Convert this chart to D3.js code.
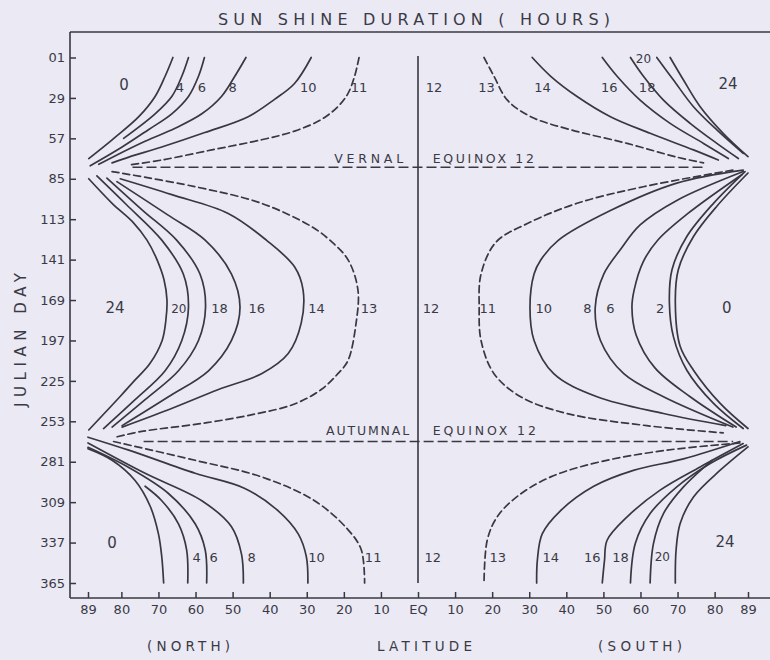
<!DOCTYPE html>
<html>
<head>
<meta charset="utf-8">
<script src="https://cdn.jsdelivr.net/npm/d3@7/dist/d3.min.js"></script>
<style>
  html, body { margin: 0; padding: 0; background: #eae9f4; }
  svg { display: block; }
  text { font-family: "DejaVu Sans", "Liberation Sans", sans-serif; fill: #3a3a46; }
</style>
</head>
<body>
<svg id="chart" width="770" height="660"></svg>
<script>
// ---- axis ticks ----
const dayTicks = [1, 29, 57, 85, 113, 141, 169, 197, 225, 253, 281, 309, 337, 365];
const dayTickLabels = ["01", "29", "57", "85", "113", "141", "169", "197", "225", "253", "281", "309", "337", "365"];
// signed latitude: negative = north (left), positive = south (right)
const latTicks = [-89, -80, -70, -60, -50, -40, -30, -20, -10, 0, 10, 20, 30, 40, 50, 60, 70, 80, 89];
const latTickLabels = ["89", "80", "70", "60", "50", "40", "30", "20", "10", "EQ", "10", "20", "30", "40", "50", "60", "70", "80", "89"];

// ---- day-length isolines, points are [latitude in degrees, Julian day] ----
// Northern hemisphere, 1 January to the vernal equinox
const northEarly = [
  { hours: 0,  pts: [[66.1, 1], [68.2, 14], [70.9, 28], [75.3, 42], [82.5, 58], [88.8, 71]] },
  { hours: 4,  pts: [[61.9, 1], [63.7, 14], [66.4, 28], [70.9, 40], [79.4, 57]] },
  { hours: 6,  pts: [[57.6, 1], [59.2, 14], [61.9, 28], [66.4, 40], [72.7, 51], [79.8, 63], [88.4, 76]] },
  { hours: 8,  pts: [[46.4, 1], [49.4, 14], [53.0, 28], [58.3, 40], [65.5, 50], [73.6, 59], [81.6, 69], [86.1, 75]] },
  { hours: 10, pts: [[28.8, 1], [33.3, 19], [38.7, 30], [45.8, 42], [57.5, 53], [69.1, 63], [78.0, 70], [82.5, 74]] },
  { hours: 11, pts: [[15.9, 1], [17.1, 14], [18.9, 26], [21.6, 35], [26.1, 44], [33.3, 52], [42.2, 58], [55.6, 65], [69.1, 72], [78.0, 75.5]] }
];
// Northern hemisphere, vernal to autumnal equinox
const northMiddle = [
  { hours: 24, pts: [[88.8, 85], [82.5, 102], [76.9, 115], [73.1, 127.5], [70.4, 141], [68.5, 155], [67.7, 169], [68.0, 183], [69.0, 197], [72.3, 213], [76.9, 226], [80.4, 236], [88.8, 259]] },
  { hours: 20, pts: [[86.6, 83], [78.6, 103], [69.1, 127.5], [63.3, 151], [61.9, 174], [63.7, 197], [68.2, 218], [76.3, 238], [84.8, 258]] },
  { hours: 18, pts: [[83.9, 84.5], [74.2, 107], [65.1, 127.5], [58.8, 151], [57.3, 174], [59.2, 197], [64.6, 218], [73.6, 238], [82.5, 257]] },
  { hours: 16, pts: [[81.2, 87], [67.5, 110], [57.4, 127.5], [50.3, 151], [48.0, 174], [50.3, 197], [56.5, 218], [67.3, 236], [79.8, 256]] },
  { hours: 14, pts: [[80.3, 85], [66.4, 96], [51.2, 109], [40.9, 127.5], [33.3, 146], [31.0, 162], [31.5, 185], [35.0, 206], [42.2, 220], [53.8, 231], [67.3, 245], [79.8, 257]] },
  { hours: 13, pts: [[82.5, 80], [60.1, 90.5], [42.2, 102], [28.8, 118], [23.8, 127.5], [18.9, 141], [16.2, 162], [16.7, 185], [18.9, 211], [21.6, 220], [26.1, 231], [33.3, 241], [44.0, 248], [58.3, 254.5], [74.5, 260], [81.6, 264]] }
];
// Northern hemisphere, autumnal equinox to 31 December
const northLate = [
  { hours: 0,  pts: [[89, 272], [82.5, 280], [76.3, 294], [72.2, 312], [70.0, 331], [69.1, 347], [68.6, 365]] },
  { hours: 4,  pts: [[73.6, 298], [69.1, 308], [64.6, 324], [62.4, 342], [62.1, 365]] },
  { hours: 6,  pts: [[89, 271], [78.0, 285], [67.3, 303], [60.1, 324], [57.4, 342], [57.0, 365]] },
  { hours: 8,  pts: [[89, 268], [73.6, 289], [58.3, 308], [50.3, 326], [47.6, 345], [47.1, 365]] },
  { hours: 10, pts: [[89, 264], [78.0, 273], [60.1, 289], [46.7, 299.5], [37.7, 315], [32.3, 331], [30.1, 347], [29.7, 365]] },
  { hours: 11, pts: [[82.1, 267], [60.1, 280], [42.2, 291.5], [27.9, 308], [18.9, 328], [15.3, 342], [14.4, 365]] }
];
// Southern hemisphere, 1 January to the vernal equinox
const southEarly = [
  { hours: 13, pts: [[17.8, 1], [20.5, 14], [24.1, 30.5], [30.4, 42], [41.1, 51], [56.4, 60.5], [69.8, 70], [77.0, 74]] },
  { hours: 14, pts: [[30.8, 1], [35.8, 14], [42.9, 28], [51.9, 42], [62.6, 53.5], [74.3, 65], [81.0, 72]] },
  { hours: 16, pts: [[49.7, 1], [53.7, 14], [59.9, 30.5], [68.0, 46.6], [77.0, 60.5], [83.7, 71]] },
  { hours: 18, pts: [[57.3, 1], [60.8, 14], [66.2, 30.5], [73.4, 46.6], [80.6, 60.5], [86.4, 71]] },
  { hours: 20, pts: [[64.4, 1], [68.9, 16.6], [74.3, 35.1], [80.6, 51.2], [87.7, 67.4]] },
  { hours: 24, pts: [[68.0, 1], [71.6, 16.6], [76.1, 35.1], [82.3, 53.5], [89, 69.7]] }
];
// Southern hemisphere, vernal to autumnal equinox
const southMiddle = [
  { hours: 11, pts: [[84.9, 79], [60.8, 90.5], [42.9, 102], [29.5, 116], [21.0, 129], [17.0, 151], [16.5, 174], [17.0, 197], [20.5, 220], [27.7, 236], [40.2, 247.6], [61.7, 256], [82.3, 261]] },
  { hours: 10, pts: [[87.7, 79], [69.8, 88], [51.9, 107], [37.9, 127.5], [33.1, 141.3], [31.3, 151], [30.2, 174], [31.3, 197], [36.6, 220], [48.3, 236], [66.2, 247.6], [83.0, 256]] },
  { hours: 8,  pts: [[87.7, 80], [69.8, 100], [59.9, 117], [54.6, 134], [50.1, 151], [47.8, 174], [49.2, 197], [55.5, 220], [66.2, 236], [84.9, 257]] },
  { hours: 6,  pts: [[87.4, 82], [72.8, 109], [64.7, 127.4], [60.7, 142.7], [58.3, 162], [57.7, 174], [58.8, 193], [63.9, 216], [73.4, 236], [85.8, 257]] },
  { hours: 2,  pts: [[88.2, 80], [79.7, 102], [72.5, 125], [68.5, 148], [67.8, 171], [68.9, 194.5], [72.5, 217.6], [79.7, 240.6], [87.7, 258]] },
  { hours: 0,  pts: [[89, 81], [80.6, 104], [74.3, 125], [70.2, 148], [69.4, 171], [70.7, 201], [74.3, 217.6], [81.5, 240.6], [89, 258]] }
];
// Southern hemisphere, autumnal equinox to 31 December
const southLate = [
  { hours: 13, pts: [[86.8, 268], [67.1, 273], [49.2, 281], [35.8, 291.5], [26.8, 305], [21.4, 319], [18.7, 335], [17.8, 365]] },
  { hours: 14, pts: [[86.8, 267], [71.6, 279], [58.1, 287], [47.4, 298], [38.4, 315], [33.5, 331], [32.2, 349], [32.0, 365]] },
  { hours: 16, pts: [[87.7, 268.4], [76.1, 284.6], [65.3, 300.7], [56.4, 319.2], [51.0, 335.4], [50.3, 349.3], [49.7, 365]] },
  { hours: 18, pts: [[88.6, 269.5], [78.8, 282.2], [69.8, 298.4], [62.6, 316.9], [58.6, 337.7], [57.3, 365]] },
  { hours: 20, pts: [[79.3, 280], [71.6, 298.4], [66.2, 316.9], [63.5, 337.7], [62.6, 365]] },
  { hours: 24, pts: [[89, 270.7], [81.5, 286.9], [74.3, 305.4], [70.7, 323.8], [69.6, 342.3], [69.4, 365]] }
];
// isolines drawn dashed
const dashedHours = [11, 13];

// equinox lines: [name, Julian day, northern end latitude, southern end latitude]
const equinoxes = [["VERNAL", 77, 77, 77], ["AUTUMNAL", 267, 74, 85]];

// region labels: [text, signed latitude, Julian day, font size]
const regionLabels = [
  ["0", -79.3, 20, 15], ["4", -64.2, 22, 13], ["6", -58.3, 22, 13], ["8", -50, 22, 13],
  ["10", -29.6, 22, 13], ["11", -15.9, 22, 13], ["12", 4.3, 22, 13], ["13", 18.5, 22, 13],
  ["14", 33.6, 22, 13], ["16", 51.6, 22, 13], ["18", 61.8, 22, 13], ["20", 60.8, 1.5, 12], ["24", 83.6, 19, 15],
  ["24", -81.7, 174, 15], ["20", -64.5, 175, 12], ["18", -53.5, 175, 13], ["16", -43.5, 175, 13],
  ["14", -27.4, 175, 13], ["13", -13.2, 175, 13], ["12", 3.5, 175, 13], ["11", 18.8, 175, 13],
  ["10", 33.9, 175, 13], ["8", 45.7, 175, 13], ["6", 51.9, 175, 13], ["2", 65.3, 175, 13], ["0", 83.3, 174, 15],
  ["0", -82.5, 337, 15], ["4", -59.7, 347, 13], ["6", -55.1, 347, 13], ["8", -44.9, 347, 13],
  ["10", -27.4, 347, 13], ["11", -12.1, 347, 13], ["12", 4, 347, 13], ["13", 21.5, 347, 13],
  ["14", 35.8, 347, 13], ["16", 47, 347, 13], ["18", 54.6, 347, 13], ["20", 65.9, 347, 12], ["24", 82.8, 336, 15]
];

// ---- layout ----
const ink = "#383842";
const frame = { left: 70, top: 32, bottom: 598, right: 770 };
const svg = d3.select("#chart");
const x = d3.scaleLinear().domain([-89, 89]).range([88, 748]);
const y = d3.scaleLinear().domain([1, 365]).range([57.5, 583]);
const line = d3.line().curve(d3.curveCatmullRom.alpha(0.5));

// frame
svg.append("g").attr("stroke", ink).attr("stroke-width", 1.6)
  .selectAll("line")
  .data([
    [frame.left, frame.top, frame.right, frame.top],
    [frame.left, frame.top, frame.left, frame.bottom],
    [frame.left, frame.bottom, frame.right, frame.bottom]
  ])
  .join("line")
  .attr("x1", d => d[0]).attr("y1", d => d[1])
  .attr("x2", d => d[2]).attr("y2", d => d[3]);

// axes with inward ticks
const yAxis = d3.axisLeft(y).tickValues(dayTicks)
  .tickFormat((d, i) => dayTickLabels[i])
  .tickSizeInner(-6).tickSizeOuter(0).tickPadding(5);
const gy = svg.append("g").attr("transform", `translate(${frame.left},0)`).call(yAxis);
gy.select(".domain").remove();
gy.selectAll(".tick line").attr("stroke", ink).attr("stroke-width", 1.5);
gy.selectAll(".tick text").attr("font-size", 13).attr("fill", "#3a3a46")
  .attr("font-family", "DejaVu Sans, sans-serif");

const xAxis = d3.axisBottom(x).tickValues(latTicks)
  .tickFormat((d, i) => latTickLabels[i])
  .tickSizeInner(-6).tickSizeOuter(0).tickPadding(7);
const gx = svg.append("g").attr("transform", `translate(0,${frame.bottom})`).call(xAxis);
gx.select(".domain").remove();
gx.selectAll(".tick line").attr("stroke", ink).attr("stroke-width", 1.5);
gx.selectAll(".tick text").attr("font-size", 13).attr("fill", "#3a3a46")
  .attr("font-family", "DejaVu Sans, sans-serif");

// equator
svg.append("line")
  .attr("x1", x(0)).attr("x2", x(0))
  .attr("y1", y(0)).attr("y2", y(365))
  .attr("stroke", ink).attr("stroke-width", 1.6);

// equinox lines
svg.append("g").selectAll("line").data(equinoxes).join("line")
  .attr("x1", d => x(-d[2])).attr("x2", d => x(d[3]))
  .attr("y1", d => y(d[1])).attr("y2", d => y(d[1]))
  .attr("stroke", ink).attr("stroke-width", 1.6).attr("stroke-dasharray", "10,4");

// isolines
function drawGroup(group, hemi) {
  const sign = hemi === "N" ? -1 : 1;
  svg.append("g").attr("class", "isolines-" + hemi)
    .selectAll("path").data(group).join("path")
    .attr("d", c => line(c.pts.map(p => [x(sign * p[0]), y(p[1])])))
    .attr("fill", "none")
    .attr("stroke", ink)
    .attr("stroke-width", 1.7)
    .attr("stroke-linecap", "round")
    .attr("stroke-dasharray", c => dashedHours.includes(c.hours) ? "7,4" : null);
}
drawGroup(northEarly, "N");
drawGroup(northMiddle, "N");
drawGroup(northLate, "N");
drawGroup(southEarly, "S");
drawGroup(southMiddle, "S");
drawGroup(southLate, "S");

// region labels
svg.append("g").selectAll("text").data(regionLabels).join("text")
  .attr("x", d => x(d[1])).attr("y", d => y(d[2]))
  .attr("dy", "0.36em")
  .attr("text-anchor", "middle")
  .attr("font-size", d => d[3])
  .text(d => d[0]);

// equinox captions
const vernalY = y(equinoxes[0][1]) - 4.5;
const autumnY = y(equinoxes[1][1]) - 6.5;
const cap = (txt, xx, yy, anchor, len) => svg.append("text")
  .attr("x", xx).attr("y", yy).attr("text-anchor", anchor)
  .attr("font-size", 12.5).attr("textLength", len).attr("lengthAdjust", "spacing")
  .text(txt);
cap("VERNAL", x(-4), vernalY, "end", 69);
cap("EQUINOX 12", x(4), vernalY, "start", 101);
cap("AUTUMNAL", x(-2.4), autumnY, "end", 83);
cap("EQUINOX 12", x(4), autumnY, "start", 103);

// titles
svg.append("text").attr("x", 414).attr("y", 25).attr("text-anchor", "middle")
  .attr("font-size", 16).attr("textLength", 392).attr("lengthAdjust", "spacing")
  .text("SUN SHINE DURATION ( HOURS)");

svg.append("text").attr("transform", "translate(26,340) rotate(-90)")
  .attr("text-anchor", "middle").attr("font-size", 15)
  .attr("textLength", 134).attr("lengthAdjust", "spacing")
  .text("JULIAN DAY");

[["(NORTH)", 188.5, 83], ["LATITUDE", 424.5, 95], ["(SOUTH)", 640, 84]].forEach(t => {
  svg.append("text").attr("x", t[1]).attr("y", 651).attr("text-anchor", "middle")
    .attr("font-size", 13.5).attr("textLength", t[2]).attr("lengthAdjust", "spacing")
    .text(t[0]);
});
</script>
</body>
</html>
